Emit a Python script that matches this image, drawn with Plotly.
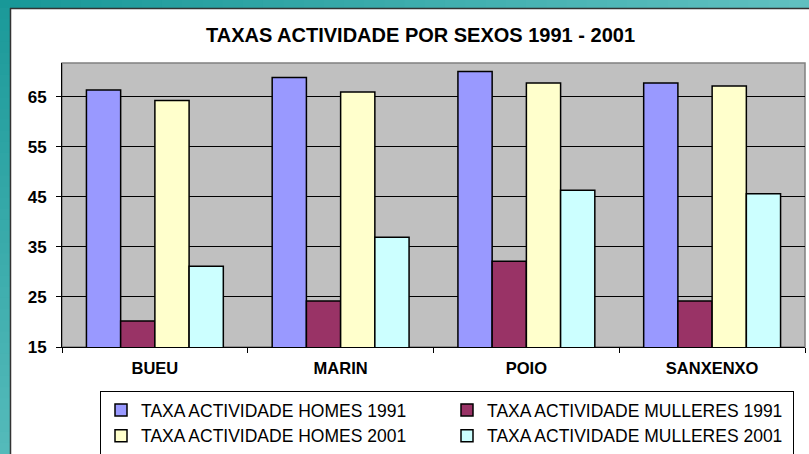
import plotly.graph_objects as go

categories = ["BUEU", "MARIN", "POIO", "SANXENXO"]
homes_1991 = [66.3, 68.8, 70.0, 67.7]
mulleres_1991 = [20.2, 24.2, 32.1, 24.2]
homes_2001 = [64.2, 65.9, 67.7, 67.1]
mulleres_2001 = [31.1, 36.9, 46.3, 45.6]
series_names = [
    "TAXA ACTIVIDADE HOMES 1991",
    "TAXA ACTIVIDADE MULLERES 1991",
    "TAXA ACTIVIDADE HOMES 2001",
    "TAXA ACTIVIDADE MULLERES 2001",
]
y_ticks = [15, 25, 35, 45, 55, 65]

colors = ["#9999FF", "#993366", "#FFFFCC", "#CCFFFF"]
FONT = "Liberation Sans, Arial, sans-serif"

W, H = 809, 454
ML, MR, MT, MB = 62, 4, 63, 107

fig = go.Figure()
for name, vals, col in zip(series_names,
                           [homes_1991, mulleres_1991, homes_2001, mulleres_2001],
                           colors):
    fig.add_trace(go.Bar(
        x=categories, y=vals, name=name,
        marker=dict(color=col, line=dict(color="#000000", width=1.5)),
    ))

# decorative teal frame (top and left strips) with a stepped gradient
pw = W - ML - MR
ph = H - MT - MB
def px_x(x):
    return (x - ML) / pw
def px_y(y):
    return (H - MB - y) / ph

shapes = []
n = 40
def lerp(c1, c2, t):
    return "rgb(%d,%d,%d)" % tuple(round(a + (b - a) * t) for a, b in zip(c1, c2))
top_a, top_b = (24, 152, 152), (96, 192, 192)
left_a, left_b = (28, 154, 154), (84, 186, 186)
for i in range(n):
    x0 = W * i / n
    x1 = W * (i + 1) / n + 1
    shapes.append(dict(type="rect", xref="paper", yref="paper",
                       x0=px_x(x0), x1=px_x(x1), y0=px_y(8), y1=px_y(0),
                       fillcolor=lerp(top_a, top_b, i / (n - 1)), line=dict(width=0),
                       layer="above"))
for i in range(n):
    y0 = 8 + (H - 8) * i / n
    y1 = 8 + (H - 8) * (i + 1) / n + 1
    shapes.append(dict(type="rect", xref="paper", yref="paper",
                       x0=px_x(0), x1=px_x(10), y0=px_y(y1), y1=px_y(y0),
                       fillcolor=lerp(left_a, left_b, i / (n - 1)), line=dict(width=0),
                       layer="above"))
# dark border of the white chart area
shapes.append(dict(type="line", xref="paper", yref="paper",
                   x0=px_x(10), x1=px_x(W), y0=px_y(8.5), y1=px_y(8.5),
                   line=dict(color="#333333", width=1.5), layer="above"))
shapes.append(dict(type="line", xref="paper", yref="paper",
                   x0=px_x(10.5), x1=px_x(10.5), y0=px_y(H), y1=px_y(8),
                   line=dict(color="#333333", width=1.5), layer="above"))
# plot area border (top/right gray)
shapes.append(dict(type="rect", xref="paper", yref="paper",
                   x0=0, x1=1, y0=0, y1=1,
                   line=dict(color="#808080", width=1.5), layer="below"))

fig.update_layout(
    width=W, height=H,
    margin=dict(l=ML, r=MR, t=MT, b=MB, pad=0, autoexpand=False),
    paper_bgcolor="#FFFFFF",
    plot_bgcolor="#C0C0C0",
    barmode="group",
    bargap=0.263,
    bargroupgap=0,
    font=dict(family=FONT, color="#000000"),
    title=dict(
        text="<b>TAXAS ACTIVIDADE POR SEXOS 1991 - 2001</b>",
        x=420.5 / W, xanchor="center", xref="container",
        y=1 - 34.5 / H, yanchor="middle", yref="container",
        font=dict(family=FONT, size=20, color="#000000"),
    ),
    xaxis=dict(
        type="category",
        automargin=False,
        showline=True, linecolor="#000000", linewidth=1,
        ticks="outside", ticklen=5, tickcolor="#000000", tickwidth=1,
        tickson="boundaries",
        showgrid=False,
        tickfont=dict(family=FONT, size=16.5, color="#000000"),
        ticklabelstandoff=6,
        tickvals=categories,
        ticktext=["<b>%s</b>" % c for c in categories],
    ),
    yaxis=dict(
        automargin=False,
        range=[15, 71.7],
        tickvals=y_ticks,
        ticktext=["<b>%d</b>" % v for v in y_ticks],
        showline=True, linecolor="#000000", linewidth=1,
        ticks="outside", ticklen=5, tickcolor="#000000", tickwidth=1,
        showgrid=True, gridcolor="#000000", gridwidth=1,
        zeroline=False,
        tickfont=dict(family=FONT, size=17, color="#000000"),
        ticklabelstandoff=6,
    ),
    legend=dict(
        orientation="h",
        x=px_x(100), xanchor="left",
        y=px_y(391), yanchor="top",
        bgcolor="#FFFFFF",
        bordercolor="#000000", borderwidth=1,
        font=dict(family=FONT, size=17.5, color="#000000"),
        entrywidth=301, entrywidthmode="pixels",
        traceorder="normal",
        itemclick=False,
    ),
    shapes=shapes,
    showlegend=True,
)

fig.write_html(
    "out.html",
    config={"displayModeBar": False, "staticPlot": True},
    post_script="document.body.style.margin='0';document.body.style.overflow='hidden';",
)
